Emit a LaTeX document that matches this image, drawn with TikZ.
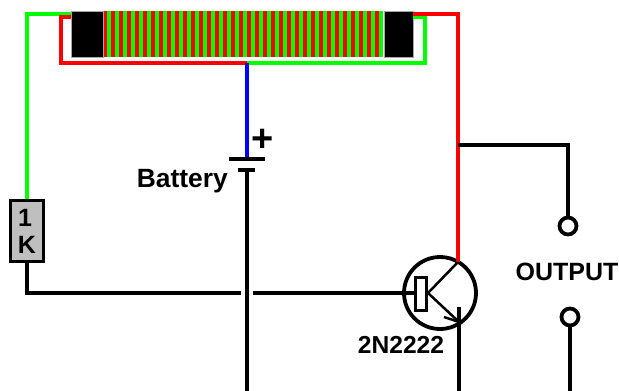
\documentclass[tikz,border=0pt]{standalone}
\usepackage{fontspec}
\setmainfont{Liberation Sans}
\usepackage{tikz}
\usetikzlibrary{calc}

\tikzset{
  wire/.style={draw=black,line width=3.8pt},
  redwire/.style={draw=red,line width=4pt},
  greenwire/.style={draw=green,line width=4pt},
  bluewire/.style={draw=blue,line width=4pt},
  lbl/.style={inner sep=0pt,font=\fontsize{25}{25}\selectfont\bfseries},
  terminal/.style={draw=black,circle,fill=white,line width=3.8pt,minimum size=17pt,inner sep=0pt},
  corepiece/.style={draw=gray!70,fill=black,line width=.8pt,minimum width=32pt,minimum height=46pt,inner sep=0pt},
}

\begin{document}
\begin{tikzpicture}[x=1pt,y=-1pt]
\useasboundingbox (0,0) rectangle (619,391);
% coil
\foreach \i in {0,...,34}
  {
  \fill [red] (103+8*\i,11) rectangle (107+8*\i,57);
  \fill [green] (107+8*\i,11) rectangle (111+8*\i,57);
  }
\node [corepiece] (CL) at (87,34) {};
\node [corepiece,minimum width=29pt] (CR) at (398.5,34) {};
% nodes
\coordinate (Bat) at (247,63);
\coordinate (RT) at (458,13.5);
\coordinate (Tap) at (458,145);
\coordinate (OutC) at (568,145);
\coordinate (Cross) at (247,293);
\node [draw=black,fill=black!25,line width=3.8pt,minimum width=33pt,minimum height=61pt,inner sep=0pt] (R1) at (27,231) {};
\node [lbl] (R1a) at (25,218) {1};
\node [lbl] (R1b) at (27,245) {K};
\node [lbl,font=\fontsize{26.4}{26}\selectfont\bfseries,anchor=east] (BatL) at (228,181) {Battery};
\node [lbl,font=\fontsize{38}{38}\selectfont\bfseries] (Plus) at (263,140) {+};
\node [lbl,font=\fontsize{24.6}{25}\selectfont\bfseries] (TrL) at (401,345) {2N2222};
\node [lbl] (OutL) at (567,272) {OUTPUT};
\node [terminal] (T1) at (568,226) {};
\node [terminal] (T2) at (570,317) {};
\node [draw=black,circle,line width=3.8pt,minimum size=72pt,inner sep=0pt] (Q) at (440,293) {};
\node [draw=black,fill=white,line width=3.8pt,minimum width=11pt,minimum height=33pt,inner sep=0pt] (QB) at (421,294) {};
\coordinate (QJ) at (428,293);
\coordinate (QC) at (458,262);
\coordinate (QE) at (459,322);
\coordinate (Bot1) at (247,391);
\coordinate (Bot2) at (459,391);
\coordinate (Bot3) at (570,391);
\node [minimum width=36pt,minimum height=3.8pt,inner sep=0pt,fill=black] (PlateA) at (247,159) {};
\node [minimum width=17pt,minimum height=3.8pt,inner sep=0pt,fill=black] (PlateB) at (246.5,170) {};
% windings
\draw [greenwire] (CL.north west |- 0,13.5) -| (R1.north -| 27,0) -- (R1.north);
\draw [redwire] (CL.west |- 0,17) -| (61,63) -- (Bat);
\draw [greenwire] (Bat) -- (425,63) |- (CR.east |- 0,17);
\draw [redwire] (CR.east |- 0,13.5) -- (RT) -- (QC);
\draw [bluewire] (Bat) -- (PlateA.north);
% black wires
\draw [wire] (R1.south) |- ($(Cross)+(-6,0)$);
\draw [wire] ($(Cross)+(6,0)$) -- (QB.west |- Q.center);
\draw [wire] (PlateB.south -| Cross) -- (Bot1);
\draw [wire] (Tap) -- (OutC) -- (T1.north);
\draw [wire] (T2.south) -- (Bot3);
\draw [line width=2.5pt] (QJ) -- (QC);
\draw [line width=2.5pt] (QJ) -- (QE);
\draw [wire] (QE |- 0,307) -- (Bot2);
\draw [line width=2.5pt] (QE) -- (444,317);
\end{tikzpicture}
\end{document}
